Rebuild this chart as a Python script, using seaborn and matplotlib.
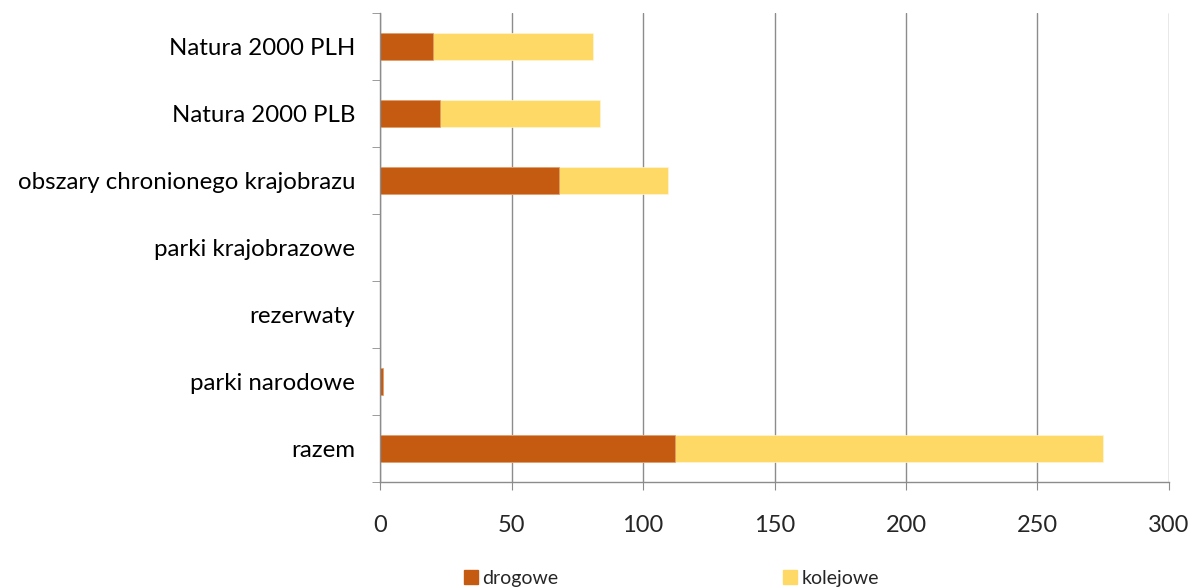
import matplotlib.pyplot as plt
import numpy as np
import pandas as pd
import seaborn as sns
from matplotlib.patches import Patch

# Dane
kategorie = ['Natura 2000 PLH', 'Natura 2000 PLB', 'obszary chronionego krajobrazu',
             'parki krajobrazowe', 'rezerwaty', 'parki narodowe', 'razem']
drogowe = [20.2, 22.8, 68.2, 0, 0, 1.0, 112.2]
kolejowe = [60.6, 60.7, 41.3, 0, 0, 0, 162.7]

df = pd.DataFrame({'kategoria': kategorie, 'drogowe': drogowe, 'kolejowe': kolejowe})
df['suma'] = df['drogowe'] + df['kolejowe']

sns.set_style('white')
plt.rcParams['font.family'] = ['Lato', 'DejaVu Sans']

kol_drog = '#C55A11'
kol_kol = '#FFD966'

fig = plt.figure(figsize=(11.92, 5.88), dpi=100)
ax = fig.add_axes([0.3188, 0.180, 0.6619, 0.798])

# stacked: suma (kolejowe) pod spodem, drogowe na wierzchu
sns.barplot(data=df, y='kategoria', x='suma', color=kol_kol, width=0.4,
            saturation=1, ax=ax, orient='h', linewidth=0.5, edgecolor='#fff5d6')
sns.barplot(data=df, y='kategoria', x='drogowe', color=kol_drog, width=0.4,
            saturation=1, ax=ax, orient='h', linewidth=0.5, edgecolor='#e0a070')

ax.set_xlim(0, 300)
ax.set_ylim(len(kategorie) - 0.5, -0.5)
ax.set_xticks(np.arange(0, 301, 50))
ax.xaxis.grid(True, color='#8c8c8c', linewidth=1)
ax.set_axisbelow(True)
ax.set_xlabel('')
ax.set_ylabel('')

for s in ['top', 'right']:
    ax.spines[s].set_visible(False)
for s in ['left', 'bottom']:
    ax.spines[s].set_color('#8c8c8c')
    ax.spines[s].set_linewidth(1)

ax.set_yticks(np.arange(-0.5, len(kategorie), 1), minor=True)
ax.tick_params(axis='y', which='major', length=0, pad=18, labelsize=17.3, labelcolor='#000000')
ax.tick_params(axis='y', which='minor', length=6, color='#8c8c8c', left=True)
ax.tick_params(axis='x', which='major', length=6, color='#8c8c8c', pad=18,
               labelsize=17, bottom=True)

uchwyty = [Patch(color=kol_drog, label='drogowe'), Patch(color=kol_kol, label='kolejowe')]
fig.legend(handles=uchwyty, loc='center', bbox_to_anchor=(0.5635, 0.017), ncol=2,
           frameon=False, fontsize=14, handlelength=0.7, handleheight=0.7,
           handletextpad=0.25, columnspacing=11.55)

fig.savefig('out.png', dpi=100)
